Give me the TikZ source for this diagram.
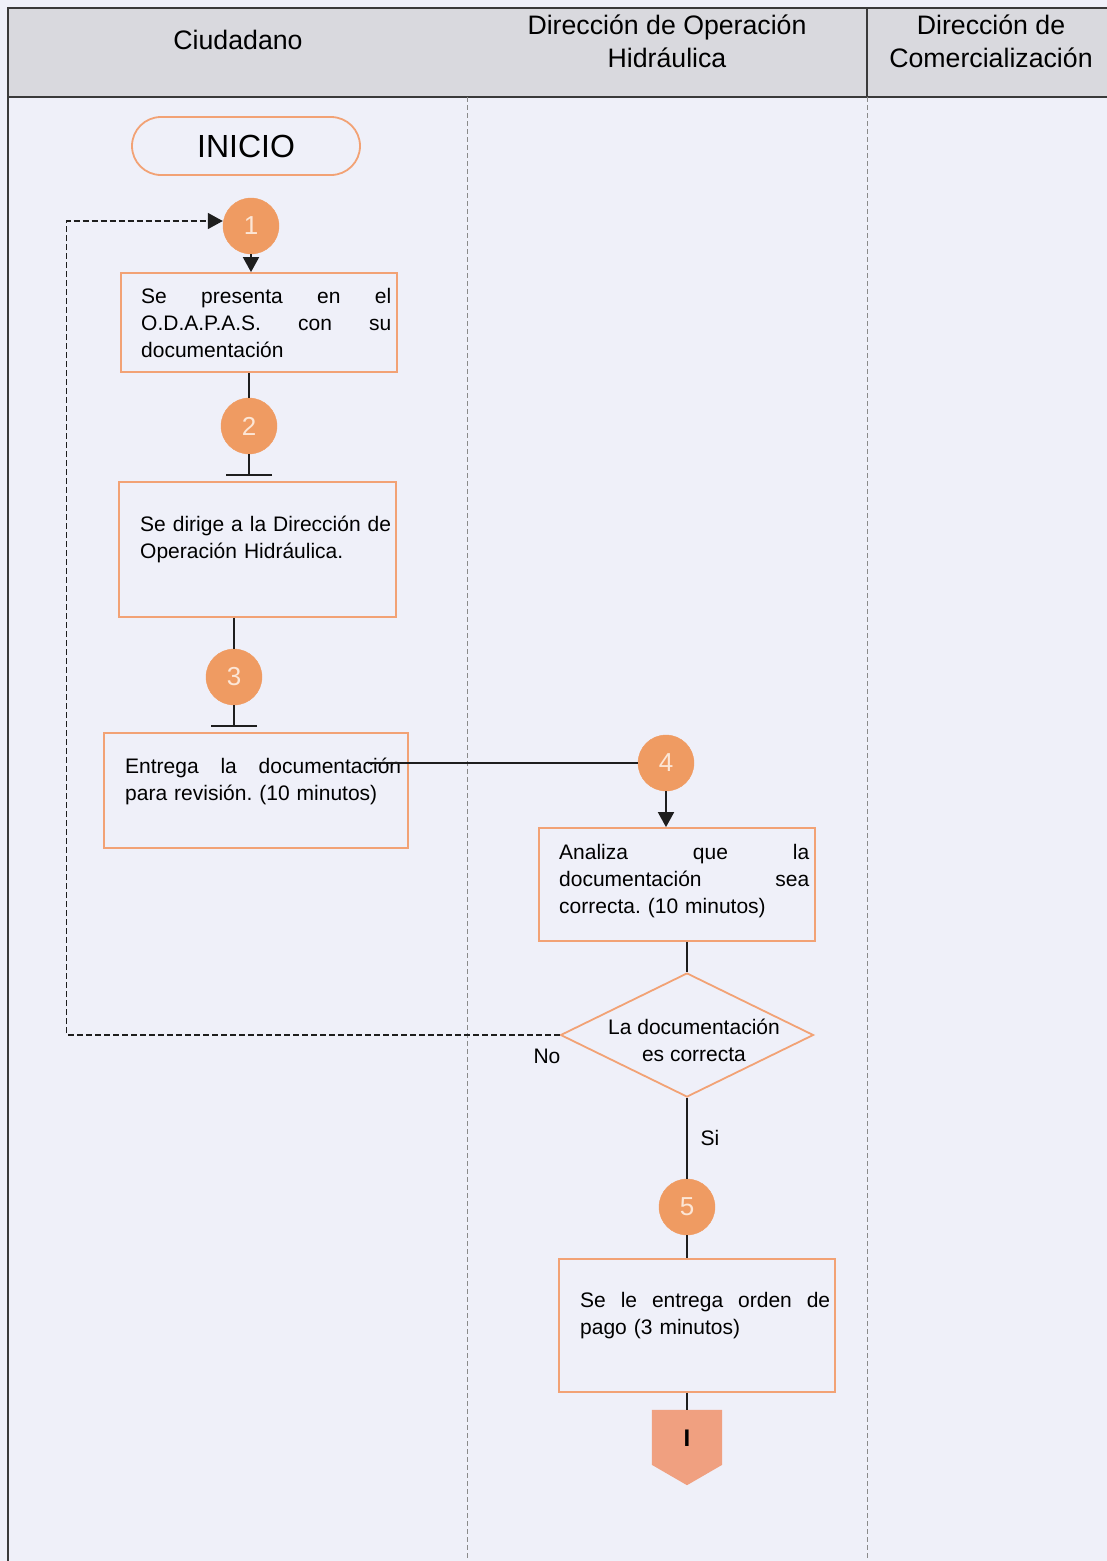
\documentclass[tikz,border=0pt]{standalone}
\usepackage{fontspec}
\setmainfont{Liberation Sans}
\usetikzlibrary{arrows.meta,calc,shapes.geometric}
\definecolor{bgc}{HTML}{EFF0F9}
\definecolor{hdrc}{HTML}{D9D9DE}
\definecolor{framec}{HTML}{3A3A3A}
\definecolor{lanec}{HTML}{8A8A8A}
\definecolor{orl}{HTML}{F2A275}
\definecolor{orf}{HTML}{EF9B62}
\definecolor{numc}{HTML}{FCE6D6}
\definecolor{offf}{HTML}{F0A080}
\definecolor{linec}{HTML}{1E1E1E}
\begin{document}
\frenchspacing
\begin{tikzpicture}[x=1pt,y=-1pt,
  bodytext/.style={font=\fontsize{21}{27}\selectfont, inner sep=0pt, align=left, text=black},
  hdrtext/.style={font=\fontsize{26.7}{33}\selectfont, align=center, inner sep=0pt},
  stepbox/.style={draw=orl, line width=1.8pt, fill=bgc, rectangle, inner sep=0pt},
  stepnum/.style={circle, fill=orf, draw=orf, minimum size=56pt, inner sep=0pt, text=numc, font=\fontsize{26}{26}\selectfont},
  conn/.style={draw=linec, line width=1.8pt},
  tip/.style={-{Triangle[width=16pt,length=15pt]}},
  tbar/.style={-{Bar[width=46pt,line width=1.8pt]}},
  loopline/.style={draw=linec, line width=1.5pt, dash pattern=on 6pt off 3pt},
  lanesep/.style={draw=lanec, line width=0.8pt, dash pattern=on 5pt off 3pt},
  framel/.style={draw=framec, line width=1.6pt}
]
\useasboundingbox (0,0) rectangle (1107,1561);
% backgrounds
\fill[bgc] (0,0) rectangle (1107,1561);
\fill[hdrc] (8,8) rectangle (1107,97);
% frame and lanes
\draw[framel] (1107,8) -- (8,8) -- (8,1561);
\draw[framel] (8,97) -- (1107,97);
\draw[framel] (867,8) -- (867,97);
\draw[lanesep] (467,97) -- (467,1561);
\draw[lanesep] (867,97) -- (867,1561);
% headers
\node[hdrtext] (h1) at (238,40) {Ciudadano};
\node[hdrtext] (h2) at (667,41) {Dirección de Operación\\Hidráulica};
\node[hdrtext] (h3) at (991,41) {Dirección de\\Comercialización};
% start
\node[draw=orl, line width=1.8pt, fill=bgc, rounded corners=29pt, minimum width=228pt, minimum height=58pt, inner sep=0pt, font=\fontsize{32}{32}\selectfont] (ini) at (246,146) {INICIO};
% circles
\node[stepnum] (c1) at (251,226) {1};
\node[stepnum] (c2) at (249,426) {2};
\node[stepnum] (c3) at (234,677) {3};
\node[stepnum] (c4) at (666,763) {4};
\node[stepnum] (c5) at (687,1207) {5};
% boxes
\node[stepbox, minimum width=276pt, minimum height=99pt] (b1) at (259,322.5) {};
\node[stepbox, minimum width=277pt, minimum height=135pt] (b2) at (257.5,549.5) {};
\node[stepbox, minimum width=304pt, minimum height=115pt] (b3) at (256,790.5) {};
\node[stepbox, minimum width=276pt, minimum height=113pt] (b4) at (677,884.5) {};
\node[stepbox, minimum width=276pt, minimum height=133pt] (b5) at (697,1325.5) {};
% decision
\node[diamond, draw=orl, line width=1.8pt, fill=bgc, minimum width=253pt, minimum height=124pt, inner sep=0pt] (dia) at (687,1035) {};
% box texts
\node[bodytext, text width=250pt, anchor=base west] (t1) at (141,303) {Se\hfill presenta\hfill en\hfill el\\O.D.A.P.A.S.\hfill con\hfill su\\documentación};
\node[bodytext, text width=256pt, anchor=base west] (t2) at (140,531) {Se dirige a la Dirección de\\Operación Hidráulica.};
\node[bodytext, text width=276pt, anchor=base west] (t3) at (125,773) {Entrega\hfill la\hfill documentación\\para revisión. (10 minutos)};
\node[bodytext, text width=250pt, anchor=base west] (t4) at (559,859) {Analiza\hfill que\hfill la\\documentación\hfill sea\\correcta. (10 minutos)};
\node[bodytext, text width=250pt, anchor=base west] (t5) at (580,1307) {Se\hfill le\hfill entrega\hfill orden\hfill de\\pago (3 minutos)};
\node[font=\fontsize{21}{27}\selectfont, align=center, inner sep=0pt] (td) at (694,1040) {La documentación\\es correcta};
% labels
\node[font=\fontsize{21}{21}\selectfont, inner sep=0pt] (lno) at (547,1056) {No};
\node[font=\fontsize{21}{21}\selectfont, inner sep=0pt] (lsi) at (710,1138) {Si};
% off-page connector
\node[minimum width=70pt, minimum height=75pt, inner sep=0pt] (off) at (687,1447.5) {};
\fill[offf] (off.north west) -- (off.north east) -- ($(off.north east)+(0,55)$) -- (off.south) -- ($(off.north west)+(0,55)$) -- cycle;
\node[font=\fontsize{24}{24}\selectfont\bfseries, inner sep=0pt] (offt) at (687,1438) {I};
% connectors
\draw[conn, tip] (c1.south) -- (c1 |- b1.north);
\draw[conn] (c2 |- b1.south) -- (c2.north);
\draw[conn, tbar] (c2.south) -- ([yshift=5pt]c2 |- b2.north);
\draw[conn] (c3 |- b2.south) -- (c3.north);
\draw[conn, tbar] (c3.south) -- ([yshift=5pt]c3 |- b3.north);
\coordinate (b3out) at (368,763);
\draw[conn] (b3out) -- (c4.west);
\draw[conn, tip] (c4.south) -- (c4 |- b4.north);
\draw[conn] (dia.north |- b4.south) -- (dia.north);
\draw[conn] (dia.south) -- (c5.north);
\draw[conn] (c5.south) -- (c5 |- b5.north);
\draw[conn] (off.north |- b5.south) -- (off.north);
\draw[loopline, tip] (dia.west) -- ++(-493,0) |- ([yshift=5pt]c1.west);
\end{tikzpicture}
\end{document}
